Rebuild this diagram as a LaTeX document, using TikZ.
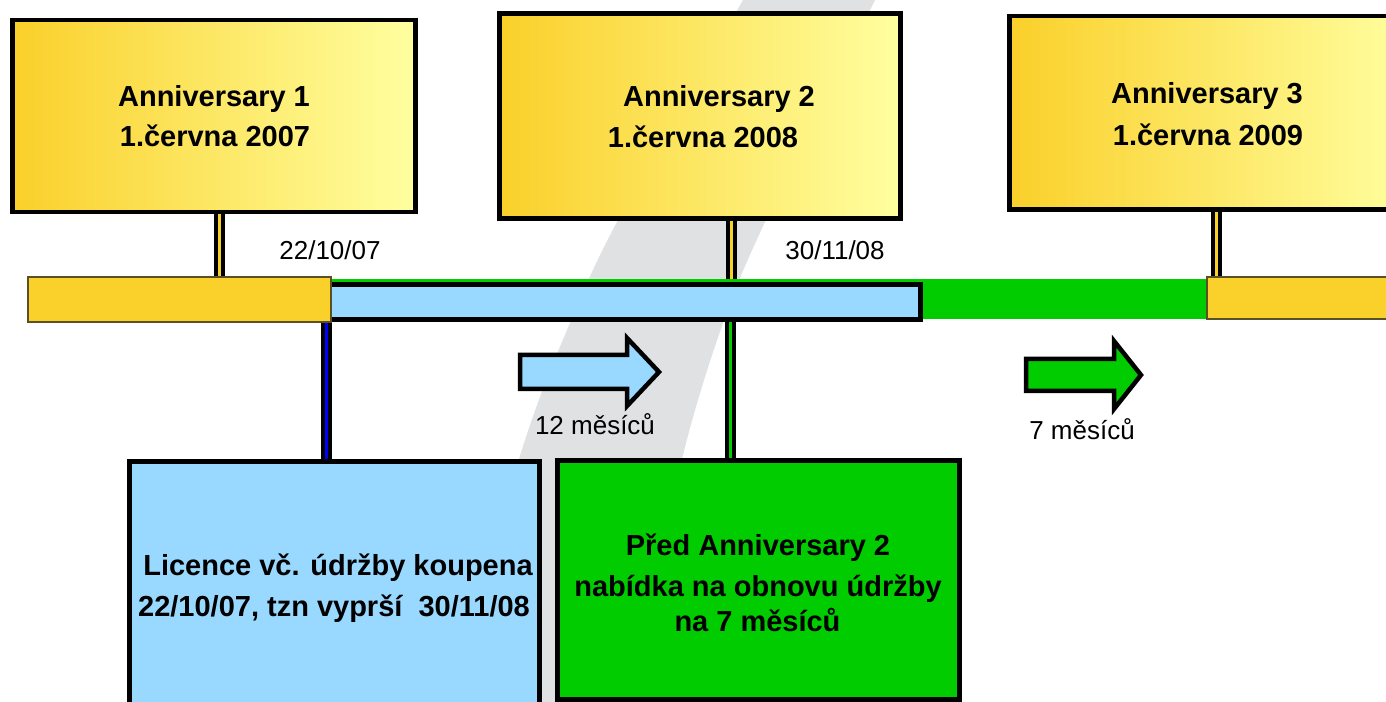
\documentclass[tikz,border=0pt]{standalone}
\usepackage{fontspec}
\setmainfont{Liberation Sans}
\newlength{\pxu}\setlength{\pxu}{0.02cm}
\definecolor{gold}{RGB}{250,208,42}
\definecolor{paleyellow}{RGB}{255,255,160}
\definecolor{lightblue}{RGB}{153,217,255}
\definecolor{brightgreen}{RGB}{0,204,0}
\definecolor{bandgray}{RGB}{224,225,227}
\definecolor{barline}{RGB}{90,80,40}
\definecolor{pureblue}{RGB}{0,0,255}
\pgfdeclarelayer{bg}\pgfdeclarelayer{mid}\pgfsetlayers{bg,mid,main}
\begin{document}
\begin{tikzpicture}[x=0.02cm,y=-0.02cm,
  annbox/.style={draw=black, line width=4.5\pxu, left color=gold, right color=paleyellow, inner sep=0},
  goldbar/.style={draw=barline, fill=gold, line width=1.2\pxu, inner sep=0},
  lowbox/.style={draw=black, line width=4.5\pxu, inner sep=0},
  conn/.style={draw=black, line width=4\pxu, double distance=3\pxu},
  blockarrow/.style={draw=black, line width=4.5\pxu, line join=miter},
  boxtext/.style={font=\fontsize{16.5}{20}\selectfont\bfseries, anchor=base, inner sep=0},
  lbl/.style={font=\fontsize{14.8}{18}\selectfont, anchor=base, inner sep=0}]
\useasboundingbox (0,0) rectangle (1386,702);

% diagonal grey band
\begin{pgfonlayer}{bg}
\fill[bandgray] plot[smooth] coordinates {(749,-10) (743,0) (617,222) (570,323) (525,440) (446,702) (440,720)}
  -- plot[smooth] coordinates {(633,720) (629,702) (683,455) (723,323) (765,222) (875,0) (880,-10)} -- cycle;
\end{pgfonlayer}

% anniversary boxes
\node[annbox, minimum width=403\pxu, minimum height=192\pxu] (a1) at (214,116) {};
\node[annbox, minimum width=401\pxu, minimum height=205\pxu] (a2) at (700,116) {};
\node[annbox, minimum width=402.5\pxu, minimum height=193.5\pxu] (a3) at (1210.75,112.75) {};

% timeline bars
\node[draw=brightgreen, fill=brightgreen, line width=1\pxu, inner sep=0, minimum width=876\pxu, minimum height=39\pxu] (greenbar) at (769,299.5) {};
\node[draw=black, fill=lightblue, line width=4.5\pxu, inner sep=0, minimum width=592.5\pxu, minimum height=35\pxu] (bluebar) at (624.25,302) {};
\node[goldbar, minimum width=303\pxu, minimum height=45\pxu] (goldL) at (179.5,299.5) {};
\node[goldbar, minimum width=200\pxu, minimum height=42\pxu] (goldR) at (1307,298) {};

% lower boxes
\node[lowbox, fill=lightblue, minimum width=410\pxu, minimum height=280\pxu] (licbox) at (334.5,601.5) {};
\node[lowbox, fill=brightgreen, minimum width=402\pxu, minimum height=239\pxu] (offerbox) at (758.5,580) {};

% connector x positions
\coordinate (c1) at (219,0);
\coordinate (c2) at (731.5,0);
\coordinate (c3) at (1216,0);
\coordinate (c4) at (326,0);
\coordinate (c5) at (730,0);

\begin{pgfonlayer}{mid}
\draw[conn, double=gold] (a1.south -| c1) -- (goldL.north -| c1);
\draw[conn, double=gold] (a2.south -| c2) -- (greenbar.north -| c2);
\draw[conn, double=gold] (a3.south -| c3) -- (goldR.north -| c3);
\draw[conn, double=pureblue] (goldL.south -| c4) -- (licbox.north -| c4);
\draw[conn, double=brightgreen] (bluebar.south -| c5) -- (offerbox.north -| c5);
\end{pgfonlayer}

% block arrows
\draw[blockarrow, fill=lightblue] (520,355) -- (627,355) -- (627,338) -- (659,372) -- (627,406) -- (627,389) -- (520,389) -- cycle;
\draw[blockarrow, fill=brightgreen] (1026,359) -- (1114,359) -- (1114,341) -- (1141,375) -- (1114,409) -- (1114,391) -- (1026,391) -- cycle;

% texts
\node[boxtext] (t1a) at (214,107) {Anniversary 1};
\node[boxtext] (t1b) at (215,147) {1.června 2007};
\node[boxtext] (t2a) at (719,107) {Anniversary 2};
\node[boxtext] (t2b) at (703,148) {1.června 2008};
\node[boxtext] (t3a) at (1207,104) {Anniversary 3};
\node[boxtext] (t3b) at (1208,146) {1.června 2009};

\node[lbl] (d1) at (330,260) {22/10/07};
\node[lbl] (d2) at (835,260) {30/11/08};
\node[lbl] (m12) at (595,435) {12 měsíců};
\node[lbl] (m7) at (1082,439) {7 měsíců};

\node[boxtext] (l1) at (338,575) {Licence vč. údržby koupena};
\node[boxtext] (l2) at (334,616) {22/10/07, tzn vyprší\ \ 30/11/08};

\node[boxtext] (g1) at (758,555) {Před Anniversary 2};
\node[boxtext] (g2) at (758,596) {nabídka na obnovu údržby};
\node[boxtext] (g3) at (757.5,631) {na 7 měsíců};
\end{tikzpicture}
\end{document}
